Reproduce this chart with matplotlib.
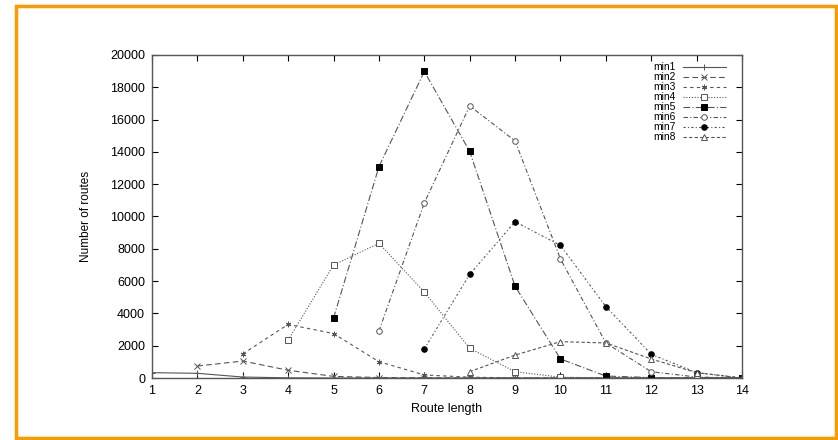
import matplotlib
matplotlib.use("Agg")
import matplotlib.pyplot as plt
from matplotlib.patches import Rectangle

plt.rcParams['font.family'] = ['Liberation Sans', 'DejaVu Sans']

# route lengths covered by each series
x_min1 = [1, 2, 3, 4, 5, 6, 7, 8, 9, 10, 11, 12, 13, 14]
min1 = [330, 290, 60, 10, 0, 0, 0, 0, 0, 0, 0, 0, 0, 0]
x_min2 = [2, 3, 4, 5, 6, 7, 8, 9, 10, 11, 12, 13, 14]
min2 = [740, 1050, 480, 100, 30, 10, 0, 0, 0, 0, 0, 0, 0]
x_min3 = [3, 4, 5, 6, 7, 8, 9, 10, 11, 12, 13, 14]
min3 = [1490, 3320, 2750, 1010, 190, 50, 10, 0, 0, 0, 0, 0]
x_min4 = [4, 5, 6, 7, 8, 9, 10, 11, 12, 13, 14]
min4 = [2350, 7000, 8340, 5320, 1840, 390, 50, 10, 0, 0, 0]
x_min5 = [5, 6, 7, 8, 9, 10, 11, 12, 13, 14]
min5 = [3710, 13080, 18980, 14030, 5680, 1180, 120, 30, 10, 0]
x_min6 = [6, 7, 8, 9, 10, 11, 12, 13, 14]
min6 = [2910, 10840, 16850, 14680, 7370, 2170, 390, 60, 0]
x_min7 = [7, 8, 9, 10, 11, 12, 13, 14]
min7 = [1800, 6420, 9680, 8210, 4420, 1470, 330, 0]
x_min8 = [8, 9, 10, 11, 12, 13, 14]
min8 = [390, 1420, 2250, 2170, 1180, 330, 0]

labels = ["min1", "min2", "min3", "min4", "min5", "min6", "min7", "min8"]

fig = plt.figure(figsize=(8.38, 4.40), dpi=100)
ax = fig.add_axes([152 / 838, 1 - 378 / 440, 590 / 838, 323 / 440])

lc = "#555555"
kw = dict(color=lc, linewidth=0.8, markersize=4, markeredgewidth=0.7)
ax.plot(x_min1, min1, marker="+", linestyle="-", label=labels[0], **kw)
ax.plot(x_min2, min2, marker="x", linestyle=(0, (5, 3)), label=labels[1], **kw)
ax.plot(x_min3, min3, marker=(6, 2, 0), linestyle=(0, (3, 3)), label=labels[2], **kw)
ax.plot(x_min4, min4, marker="s", markerfacecolor="white", linestyle=(0, (1, 1.5)),
        label=labels[3], **kw)
ax.plot(x_min5, min5, marker="s", markerfacecolor="black", markeredgecolor="black",
        linestyle=(0, (6, 2, 1, 2)), label=labels[4], **kw)
ax.plot(x_min6, min6, marker="o", markerfacecolor="white", linestyle=(0, (4, 2, 1, 2)),
        label=labels[5], **kw)
ax.plot(x_min7, min7, marker="o", markerfacecolor="black", markeredgecolor="black",
        linestyle=(0, (2, 2, 1, 2)), label=labels[6], **kw)
ax.plot(x_min8, min8, marker="^", markerfacecolor="white", linestyle=(0, (3, 2)),
        label=labels[7], **kw)

ax.set_xlim(1, 14)
ax.set_ylim(0, 20000)
ax.set_xticks(range(1, 15))
ax.set_yticks(range(0, 20001, 2000))
ax.tick_params(direction="in", top=True, right=True, labelsize=9, length=4,
               width=0.8, colors="black", pad=5)
for s in ax.spines.values():
    s.set_linewidth(1.0)
    s.set_color("#555555")

ax.set_xlabel("Route length", fontsize=9, labelpad=4)
ax.set_ylabel("Number of routes", fontsize=8.5, labelpad=13,
              family=['Liberation Sans Narrow', 'Liberation Sans'])

leg = ax.legend(loc="upper right", markerfirst=False, frameon=False, fontsize=7.4,
                labelspacing=0.0, handlelength=4.2, handletextpad=0.7,
                borderaxespad=0.3, bbox_to_anchor=(0.985, 1.0))

# orange page border
fig.patches.append(Rectangle((16 / 838, 2 / 440), 820 / 838, 432 / 440,
                             transform=fig.transFigure, fill=False,
                             edgecolor="#ff9900", linewidth=2.5))

fig.savefig("out.png", dpi=100)
